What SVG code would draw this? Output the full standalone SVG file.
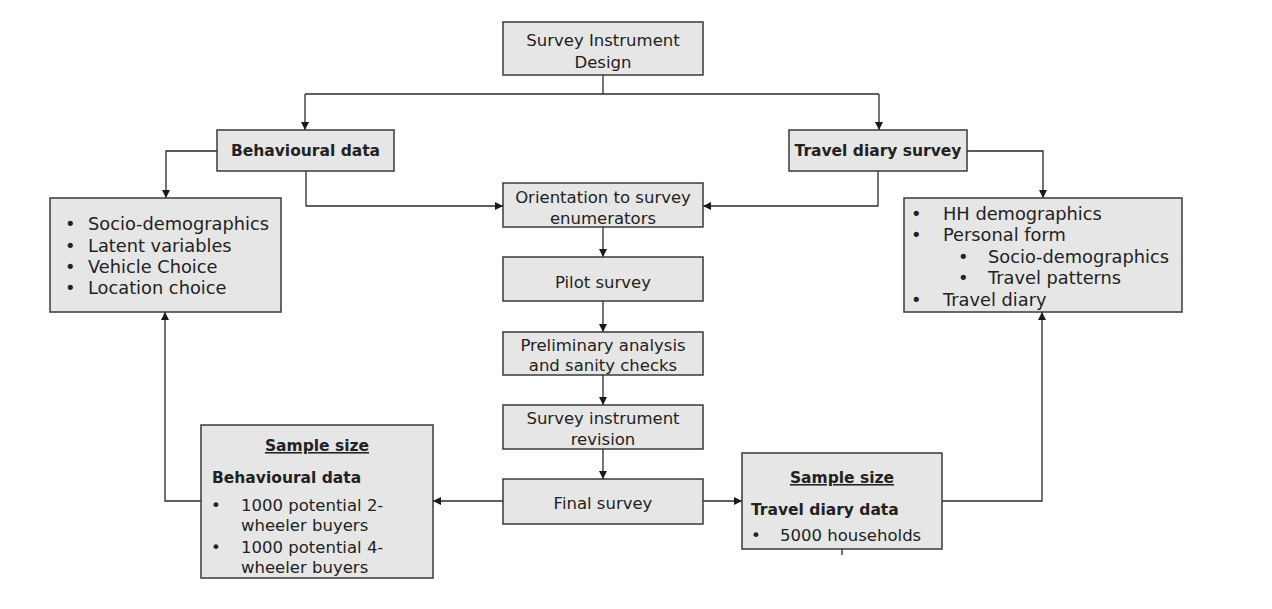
<svg xmlns="http://www.w3.org/2000/svg" width="1272" height="609" viewBox="0 0 1272 609">
<defs>
<marker id="ah" viewBox="0 0 10 10" refX="10" refY="5" markerWidth="8" markerHeight="8" markerUnits="userSpaceOnUse" orient="auto">
<path d="M0,0 L10,5 L0,10 z" fill="#1a1a1a"/>
</marker>
<style>
.box{fill:#e7e6e6;stroke:#3a3a3a;stroke-width:1.5}
.t{font-family:"DejaVu Sans","Liberation Sans",sans-serif;font-size:16.5px;fill:#222}
.l{font-size:17.8px}
.c{text-anchor:middle}
.b{font-weight:bold;font-size:15.5px}
.u{text-decoration:underline}
.conn{fill:none;stroke:#2a2a2a;stroke-width:1.3}
.arr{marker-end:url(#ah)}
</style>
</defs>
<rect width="1272" height="609" fill="#ffffff"/>
<g id="connectors">
<path class="conn" d="M603,75 V94"/>
<path class="conn" d="M305,94 H879"/>
<path class="conn arr" d="M305,94 V130"/>
<path class="conn arr" d="M879,94 V130"/>
<path class="conn arr" d="M217,151 H166 V198"/>
<path class="conn arr" d="M967,151 H1043 V198"/>
<path class="conn arr" d="M306,171 V206 H503"/>
<path class="conn arr" d="M878,171 V206 H703"/>
<path class="conn arr" d="M603,227 V257"/>
<path class="conn arr" d="M603,301 V332"/>
<path class="conn arr" d="M603,375 V405"/>
<path class="conn arr" d="M603,449 V479"/>
<path class="conn arr" d="M503,501 H433"/>
<path class="conn arr" d="M703,501 H742"/>
<path class="conn arr" d="M201,501 H165 V312"/>
<path class="conn arr" d="M942,501 H1042 V312"/>
<path class="conn" d="M842,549 V555"/>
</g>
<g id="survey-instrument-design">
<rect class="box" x="503" y="22" width="200" height="53"/>
<text class="t c" x="603" y="46">Survey Instrument</text>
<text class="t c" x="603" y="68">Design</text>
</g>
<g id="behavioural-data">
<rect class="box" x="217" y="130" width="177" height="41"/>
<text class="t c b" x="305.5" y="156">Behavioural data</text>
</g>
<g id="travel-diary-survey">
<rect class="box" x="789" y="130" width="178" height="41"/>
<text class="t c b" x="878" y="156">Travel diary survey</text>
</g>
<g id="behavioural-list">
<rect class="box" x="50" y="198" width="231" height="114"/>
<text class="t l" x="65" y="230">•</text><text class="t l" x="88" y="230">Socio-demographics</text>
<text class="t l" x="65" y="252">•</text><text class="t l" x="88" y="252">Latent variables</text>
<text class="t l" x="65" y="273">•</text><text class="t l" x="88" y="273">Vehicle Choice</text>
<text class="t l" x="65" y="294">•</text><text class="t l" x="88" y="294">Location choice</text>
</g>
<g id="travel-list">
<rect class="box" x="904" y="198" width="278" height="114"/>
<text class="t l" x="911" y="220">•</text><text class="t l" x="943" y="220">HH demographics</text>
<text class="t l" x="911" y="241">•</text><text class="t l" x="943" y="241">Personal form</text>
<text class="t l" x="958" y="263">•</text><text class="t l" x="988" y="263">Socio-demographics</text>
<text class="t l" x="958" y="284">•</text><text class="t l" x="988" y="284">Travel patterns</text>
<text class="t l" x="911" y="306">•</text><text class="t l" x="943" y="306">Travel diary</text>
</g>
<g id="orientation">
<rect class="box" x="503" y="183" width="200" height="44"/>
<text class="t c" x="603" y="203">Orientation to survey</text>
<text class="t c" x="603" y="224">enumerators</text>
</g>
<g id="pilot-survey">
<rect class="box" x="503" y="257" width="200" height="44"/>
<text class="t c" x="603" y="288">Pilot survey</text>
</g>
<g id="preliminary-analysis">
<rect class="box" x="503" y="332" width="200" height="43"/>
<text class="t c" x="603" y="351">Preliminary analysis</text>
<text class="t c" x="603" y="371">and sanity checks</text>
</g>
<g id="instrument-revision">
<rect class="box" x="503" y="405" width="200" height="44"/>
<text class="t c" x="603" y="424">Survey instrument</text>
<text class="t c" x="603" y="445">revision</text>
</g>
<g id="final-survey">
<rect class="box" x="503" y="479" width="200" height="45"/>
<text class="t c" x="603" y="509">Final survey</text>
</g>
<g id="sample-behavioural">
<rect class="box" x="201" y="425" width="232" height="153"/>
<text class="t c b u" x="317" y="451">Sample size</text>
<text class="t b" x="212" y="483">Behavioural data</text>
<text class="t" x="211" y="511">•</text><text class="t" x="241" y="511">1000 potential 2-</text>
<text class="t" x="241" y="531">wheeler buyers</text>
<text class="t" x="211" y="553">•</text><text class="t" x="241" y="553">1000 potential 4-</text>
<text class="t" x="241" y="573">wheeler buyers</text>
</g>
<g id="sample-travel">
<rect class="box" x="742" y="453" width="200" height="96"/>
<text class="t c b u" x="842" y="483">Sample size</text>
<text class="t b" x="751" y="515">Travel diary data</text>
<text class="t" x="751" y="541">•</text><text class="t" x="780" y="541">5000 households</text>
</g>
</svg>
